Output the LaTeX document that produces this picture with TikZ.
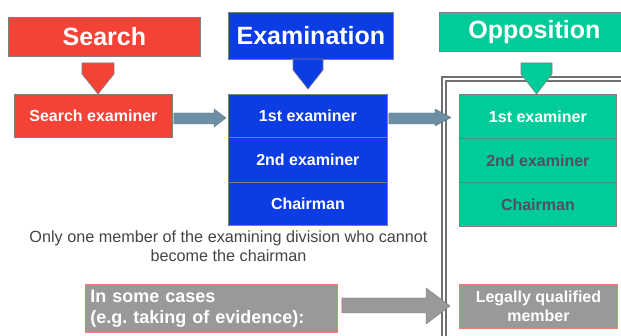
\documentclass[tikz,border=0pt]{standalone}
\usepackage{fontspec}
\setmainfont{Liberation Sans}
\usetikzlibrary{calc}
\definecolor{sred}{HTML}{F44336}
\definecolor{eblue}{HTML}{0C3CE4}
\definecolor{ogreen}{HTML}{00CC99}
\definecolor{arrbl}{HTML}{6E8FA3}
\definecolor{gbox}{HTML}{999999}
\definecolor{salmon}{HTML}{E8806E}
\definecolor{txtgray}{HTML}{454545}
\definecolor{darktxt}{HTML}{505060}
\definecolor{framec}{HTML}{707070}
\definecolor{bordc}{HTML}{7F7F7F}
\definecolor{tealdiv}{HTML}{2E9A82}
\frenchspacing
\begin{document}
\begin{tikzpicture}[x=1pt,y=-1pt,
  hdr/.style={draw=bordc, line width=0.8pt, inner sep=0pt, anchor=north west,
    text=white, font=\bfseries\fontsize{25}{28}\selectfont},
  blk/.style={draw=bordc, line width=0.8pt, inner sep=0pt, anchor=north west,
    text=white, font=\bfseries\fontsize{16}{19}\selectfont, align=center},
  gbx/.style={draw=salmon, fill=gbox, line width=0.9pt, inner sep=0pt, anchor=north west,
    text=white, font=\bfseries\fontsize{16}{19}\selectfont},
  pent/.style={draw=bordc, line width=0.6pt},
  barrow/.style={fill=arrbl, draw=arrbl!80!black, line width=0.4pt},
  garrow/.style={fill=gbox, draw=gbox!80!black, line width=0.4pt},
  framel/.style={draw=framec, line width=1.4pt}]
\useasboundingbox (0,0) rectangle (621,336);
\fill[white] (0,0) rectangle (621,336);

% frame (double line) around opposition side
\draw[framel] (442,336) |- (621,77);
\draw[framel] (446,336) |- (621,81);

% headers
\node[hdr, fill=sred, minimum width=192pt, minimum height=39pt] (hs) at (8,17) {Search};
\node[hdr, fill=eblue, minimum width=165pt, minimum height=47pt] (he) at (228,12) {Examination};
\node[hdr, fill=ogreen, minimum width=190pt, minimum height=39pt, text width=175pt, align=center] (ho) at (439,12) {Opposition};

% search branch
\node[blk, fill=sred, minimum width=158pt, minimum height=43pt] (se) at (14,94) {Search examiner};

% examination boxes
\node[blk, fill=eblue, minimum width=159pt, minimum height=43pt] (e1) at (228,94) {1st examiner};
\node[blk, fill=eblue, minimum width=159pt, minimum height=45pt] (e2) at (228,137) {2nd examiner};
\node[blk, fill=eblue, minimum width=159pt, minimum height=43pt] (e3) at (228,182) {Chairman};

% opposition boxes
\node[blk, fill=ogreen, minimum width=157pt, minimum height=44pt] (o1) at (459,94) {1st examiner};
\node[blk, fill=ogreen, minimum width=157pt, minimum height=44pt, text=darktxt] (o2) at (459,138) {2nd examiner};
\node[blk, fill=ogreen, minimum width=157pt, minimum height=44pt, text=darktxt] (o3) at (459,182) {Chairman};
\draw[tealdiv, line width=1pt] (o1.south west) -- (o1.south east);
\draw[tealdiv, line width=1pt] (o2.south west) -- (o2.south east);
\draw[bordc, line width=0.8pt] (o1.north west) rectangle (o3.south east);

% pentagons
\draw[pent, fill=sred] (82,63) -- (114,63) -- (114,74) -- (98,94) -- (82,74) -- cycle;
\draw[pent, fill=eblue] (293,59) -- (323,59) -- (323,70) -- (308,89) -- (293,70) -- cycle;
\draw[pent, fill=ogreen] (521,63) -- (552,63) -- (552,74) -- (536.5,94) -- (521,74) -- cycle;

% block arrows
\draw[barrow] ([xshift=1pt]se.east |- {(0,113)}) -- ([xshift=-14pt]e1.west |- {(0,113)})
  -- ([xshift=-14pt]e1.west |- {(0,109)}) -- ([xshift=-2pt]e1.west |- {(0,118)})
  -- ([xshift=-14pt]e1.west |- {(0,127)}) -- ([xshift=-14pt]e1.west |- {(0,124)})
  -- ([xshift=1pt]se.east |- {(0,124)}) -- cycle;
\draw[barrow] ([xshift=1pt]e1.east |- {(0,113)}) -- ([xshift=-24pt]o1.west |- {(0,113)})
  -- ([xshift=-24pt]o1.west |- {(0,109)}) -- ([xshift=-8pt]o1.west |- {(0,117.5)})
  -- ([xshift=-24pt]o1.west |- {(0,126)}) -- ([xshift=-24pt]o1.west |- {(0,124)})
  -- ([xshift=1pt]e1.east |- {(0,124)}) -- cycle;

% note
\node[font=\fontsize{16.2}{19}\selectfont, text=txtgray, align=center] (note) at (228.5,246)
  {Only one member of the examining division who cannot\\become the chairman};

% gray boxes
\node[gbx, minimum width=252pt, minimum height=48pt, text width=242pt, align=left,
  font=\bfseries\fontsize{18}{21}\selectfont] (gc) at (85,284)
  {In some cases\\(e.g. taking of evidence):};
\node[gbx, minimum width=158pt, minimum height=44pt, align=center] (lq) at (459,284)
  {Legally qualified\\member};
\draw[garrow] ([xshift=4pt]gc.east |- {(0,298)}) -- ([xshift=-33pt]lq.west |- {(0,298)})
  -- ([xshift=-33pt]lq.west |- {(0,288)}) -- ([xshift=-9pt]lq.west |- {(0,306)})
  -- ([xshift=-33pt]lq.west |- {(0,324)}) -- ([xshift=-33pt]lq.west |- {(0,313)})
  -- ([xshift=4pt]gc.east |- {(0,313)}) -- cycle;
\end{tikzpicture}
\end{document}
